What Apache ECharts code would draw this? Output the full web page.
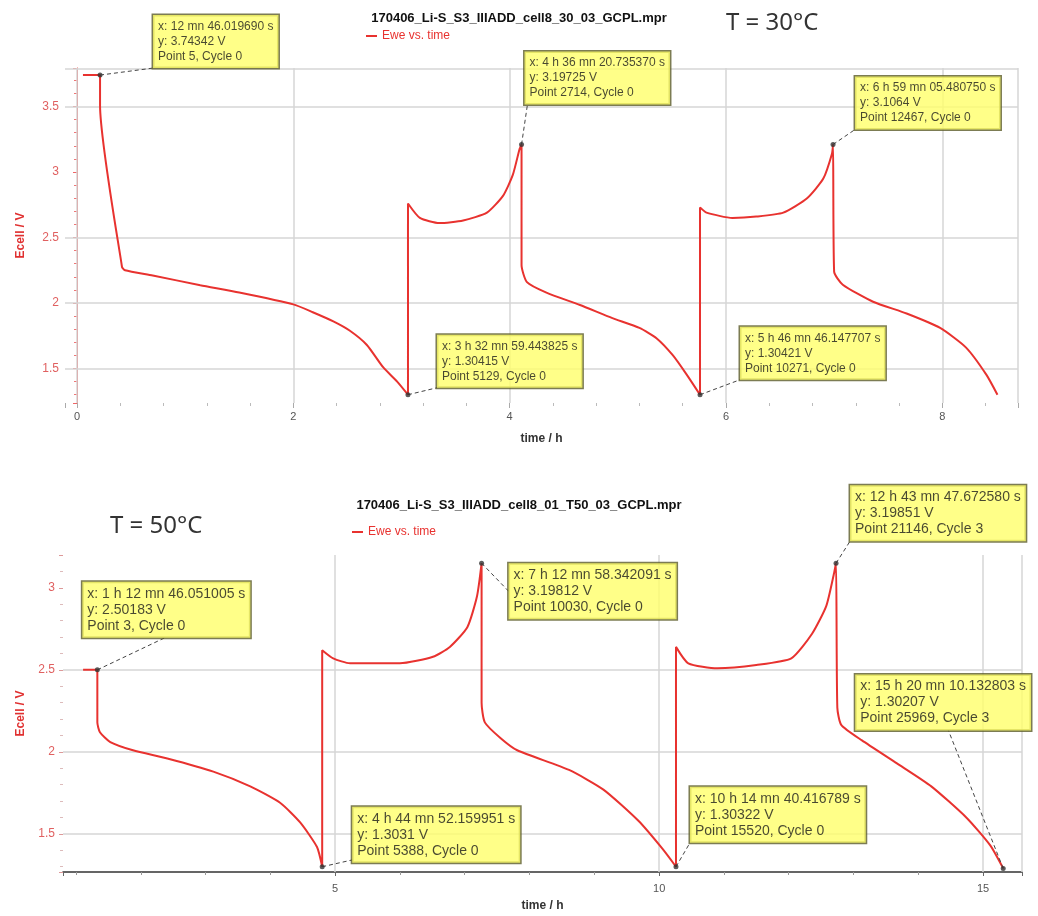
<!DOCTYPE html>
<html><head><meta charset="utf-8">
<script src="https://cdn.jsdelivr.net/npm/echarts@6/dist/echarts.min.js"></script>
<style>html,body{margin:0;padding:0;background:#fff}#c{width:1038px;height:916px}</style>
</head><body><div id="c"></div>
<script>
// ---------- DATA ----------
const seriesName = 'Ewe vs. time';
const fileTop = '170406_Li-S_S3_IIIADD_cell8_30_03_GCPL.mpr';
const fileBot = '170406_Li-S_S3_IIIADD_cell8_01_T50_03_GCPL.mpr';
const tempTop = 'T = 30°C';
const tempBot = 'T = 50°C';

// top chart (30 °C): time in h, Ecell in V
const topTime = [0.055,0.213,0.213,0.416,0.444,0.70,1.14,1.50,2.00,2.18,2.37,2.52,2.68,2.83,2.96,3.06,
  3.06,3.17,3.35,3.57,3.79,3.94,4.03,4.09,4.11,
  4.11,4.16,4.34,4.65,4.95,5.20,5.36,5.51,5.64,5.76,
  5.76,5.82,6.06,6.28,6.53,6.75,6.90,6.98,6.99,
  7.00,7.08,7.36,7.67,7.98,8.22,8.41,8.51];
const topVolt = [3.74,3.74,3.51,2.275,2.25,2.21,2.136,2.08,1.99,1.93,1.86,1.79,1.68,1.51,1.40,1.30,
  2.76,2.65,2.61,2.63,2.69,2.82,2.98,3.17,3.21,
  2.29,2.16,2.08,1.985,1.885,1.81,1.73,1.60,1.45,1.30,
  2.73,2.69,2.65,2.66,2.69,2.80,2.95,3.14,3.21,
  2.24,2.14,2.01,1.92,1.81,1.66,1.45,1.30];

// bottom chart (50 °C)
const botTime = [1.11,1.33,1.33,1.37,1.53,1.88,2.41,3.12,3.69,4.15,4.46,4.72,4.80,
  4.80,4.97,5.23,5.49,6.00,6.51,6.77,7.04,7.19,7.26,
  7.26,7.31,7.55,7.81,8.61,9.14,9.68,10.05,10.26,
  10.26,10.45,10.90,11.50,12.04,12.36,12.58,12.70,12.73,
  12.75,12.81,13.13,13.67,14.20,14.74,15.11,15.31];
const botVolt = [2.50,2.50,2.18,2.12,2.06,2.01,1.96,1.88,1.79,1.69,1.57,1.42,1.30,
  2.62,2.57,2.54,2.54,2.54,2.58,2.64,2.76,2.95,3.15,
  2.30,2.18,2.085,2.01,1.89,1.77,1.58,1.41,1.30,
  2.64,2.54,2.51,2.53,2.57,2.72,2.89,3.09,3.15,
  2.27,2.165,2.07,1.93,1.79,1.60,1.43,1.29];

// annotated points
const topMarkTime = [0.213, 4.11, 6.99, 3.06, 5.76];
const topMarkVolt = [3.74, 3.21, 3.21, 1.30, 1.30];
const topMarkText = [
  'x: 12 mn 46.019690 s\ny: 3.74342 V\nPoint 5, Cycle 0',
  'x: 4 h 36 mn 20.735370 s\ny: 3.19725 V\nPoint 2714, Cycle 0',
  'x: 6 h 59 mn 05.480750 s\ny: 3.1064 V\nPoint 12467, Cycle 0',
  'x: 3 h 32 mn 59.443825 s\ny: 1.30415 V\nPoint 5129, Cycle 0',
  'x: 5 h 46 mn 46.147707 s\ny: 1.30421 V\nPoint 10271, Cycle 0'
];
const botMarkTime = [1.33, 7.26, 12.73, 15.31, 4.80, 10.26];
const botMarkVolt = [2.50, 3.15, 3.15, 1.29, 1.30, 1.30];
const botMarkText = [
  'x: 1 h 12 mn 46.051005 s\ny: 2.50183 V\nPoint 3, Cycle 0',
  'x: 7 h 12 mn 58.342091 s\ny: 3.19812 V\nPoint 10030, Cycle 0',
  'x: 12 h 43 mn 47.672580 s\ny: 3.19851 V\nPoint 21146, Cycle 3',
  'x: 15 h 20 mn 10.132803 s\ny: 1.30207 V\nPoint 25969, Cycle 3',
  'x: 4 h 44 mn 52.159951 s\ny: 1.3031 V\nPoint 5388, Cycle 0',
  'x: 10 h 14 mn 40.416789 s\ny: 1.30322 V\nPoint 15520, Cycle 0'
];

// axis ranges and grid-line values
const topXRange = [-0.111, 8.70], topYRange = [1.237, 3.794];
const botXRange = [0.80, 15.60], botYRange = [1.268, 3.20];
const topXGrid = [0, 2, 4, 6, 8];
const topYGrid = [1.5, 2, 2.5, 3.5];
const botXGrid = [5, 10, 15];
const botYGrid = [1.5, 2, 2.5];

// ---------- STYLE (annotation box placement relative to its point, and leader anchor on box) ----------
const topBoxOff = [[53,-60],[3,-93],[22,-68],[29,-60],[40,-68]];
const topBoxAnchor = [[0,1],[0.02,1],[0,1],[0,1],[0,1]];
const botBoxOff = [[-15,-88],[27,0],[14,-78],[-148,-194],[30,-60],[14,-80]];
const botBoxAnchor = [[0.49,1],[0,0.5],[0,1],[0.53,1],[0,0.95],[0,1]];
const topFont = [12, 15], botFont = [14, 16];

const RED = '#e8322f';
const pairs = (a, b) => a.map((v, i) => [v, b[i]]);
const isMult = (v, s) => Math.abs(v / s - Math.round(v / s)) < 1e-6;

function gridLines(xs, ys, extra) {
  return {
    silent: true, symbol: 'none', z: 1, animation: false,
    label: { show: false },
    lineStyle: { color: '#d6d6d6', width: 1.5, type: 'solid' },
    emphasis: { disabled: true },
    data: xs.map(v => ({ xAxis: v })).concat(ys.map(v => ({ yAxis: v }))).concat(extra)
  };
}

function layoutFn(offs) {
  return function (p) {
    const o = offs[p.dataIndex];
    const cx = p.rect.x + p.rect.width / 2, cy = p.rect.y + p.rect.height / 2;
    return { x: cx + o[0], y: cy + o[1], align: 'left', verticalAlign: 'top' };
  };
}

function markSeries(xi, times, volts, texts, offs, font) {
  return {
    type: 'scatter', xAxisIndex: xi, yAxisIndex: xi, z: 5, silent: true,
    symbolSize: 5, itemStyle: { color: '#333' },
    data: pairs(times, volts),
    label: {
      show: true, position: 'right',
      formatter: p => texts[p.dataIndex],
      backgroundColor: '#ffff6a', borderColor: '#5b5b28', borderWidth: 1.5,
      padding: [4, 5], color: '#1a1a1a', fontSize: font[0], lineHeight: font[1],
      fontFamily: 'Liberation Sans'
    },
    labelLayout: layoutFn(offs)
  };
}

const chart = echarts.init(document.getElementById('c'), null, { renderer: 'canvas' });
chart.setOption({
  animation: false,
  backgroundColor: '#fff',
  textStyle: { fontFamily: 'Liberation Sans' },
  title: [
    { text: fileTop, left: 'center', top: 12, padding: 0,
      textStyle: { fontSize: 13, fontWeight: 'bold', color: '#111', fontFamily: 'Liberation Sans' } },
    { text: tempTop, left: 726, top: 11, padding: 0,
      textStyle: { fontSize: 24, fontWeight: 'normal', color: '#333', fontFamily: 'Noto Sans' } },
    { text: fileBot, left: 'center', top: 499, padding: 0,
      textStyle: { fontSize: 13, fontWeight: 'bold', color: '#111', fontFamily: 'Liberation Sans' } },
    { text: tempBot, left: 110, top: 514, padding: 0,
      textStyle: { fontSize: 24, fontWeight: 'normal', color: '#333', fontFamily: 'Noto Sans' } }
  ],
  legend: [
    { data: [seriesName], left: 366, top: 30, padding: 0, selectedMode: false,
      icon: 'rect', itemWidth: 11, itemHeight: 2, itemGap: 5,
      textStyle: { color: RED, fontSize: 12, fontFamily: 'Liberation Sans' } },
    { data: [seriesName], left: 352, top: 526, padding: 0, selectedMode: false,
      icon: 'rect', itemWidth: 11, itemHeight: 2, itemGap: 5,
      textStyle: { color: RED, fontSize: 12, fontFamily: 'Liberation Sans' } }
  ],
  grid: [
    { left: 65, right: 20, top: 68, bottom: 513 },
    { left: 63, right: 16, top: 555, bottom: 44 }
  ],
  xAxis: [
    { gridIndex: 0, type: 'value', min: topXRange[0], max: topXRange[1], minInterval: 2, maxInterval: 2,
      axisLine: { show: false },
      axisTick: { show: true, length: 5, lineStyle: { color: '#aaa' } },
      minorTick: { show: true, splitNumber: 5, length: 3, lineStyle: { color: '#bbb' } },
      splitLine: { show: false },
      axisLabel: { color: '#555', fontSize: 11, margin: 8, formatter: v => isMult(v, 2) ? String(Math.round(v)) : '' },
      name: 'time / h', nameLocation: 'middle', nameGap: 30,
      nameTextStyle: { fontWeight: 'bold', color: '#333', fontSize: 12 } },
    { gridIndex: 1, type: 'value', min: botXRange[0], max: botXRange[1], minInterval: 5, maxInterval: 5,
      axisLine: { show: true, lineStyle: { color: '#333', width: 1.5 } },
      axisTick: { show: true, length: 4, lineStyle: { color: '#666' } },
      minorTick: { show: true, splitNumber: 5, length: 3, lineStyle: { color: '#999' } },
      splitLine: { show: false },
      axisLabel: { color: '#555', fontSize: 11, margin: 11, formatter: v => isMult(v, 5) ? String(Math.round(v)) : '' },
      name: 'time / h', nameLocation: 'middle', nameGap: 28,
      nameTextStyle: { fontWeight: 'bold', color: '#333', fontSize: 12 } }
  ],
  yAxis: [
    { gridIndex: 0, type: 'value', min: topYRange[0], max: topYRange[1], minInterval: 0.5, maxInterval: 0.5,
      axisLine: { show: true, lineStyle: { color: '#e44', width: 1 } },
      axisTick: { show: true, length: 4, lineStyle: { color: '#e66' } },
      minorTick: { show: true, splitNumber: 5, length: 3, lineStyle: { color: '#e77' } },
      splitLine: { show: false },
      axisLabel: { color: '#e06060', fontSize: 12, margin: 6, formatter: v => isMult(v, 0.5) ? String(Math.round(v * 10) / 10) : '' },
      name: 'Ecell / V', nameLocation: 'middle', nameRotate: 90, nameGap: 38,
      nameTextStyle: { color: '#e03030', fontWeight: 'bold', fontSize: 12 } },
    { gridIndex: 1, type: 'value', min: botYRange[0], max: botYRange[1], minInterval: 0.5, maxInterval: 0.5,
      axisLine: { show: false },
      axisTick: { show: true, length: 4, lineStyle: { color: '#d99' } },
      minorTick: { show: true, splitNumber: 5, length: 3, lineStyle: { color: '#dbb' } },
      splitLine: { show: false },
      axisLabel: { color: '#e06060', fontSize: 12, margin: 8, formatter: v => isMult(v, 0.5) ? String(Math.round(v * 10) / 10) : '' },
      name: 'Ecell / V', nameLocation: 'middle', nameRotate: 90, nameGap: 36,
      nameTextStyle: { color: '#e03030', fontWeight: 'bold', fontSize: 12 } }
  ],
  series: [
    { name: seriesName, type: 'line', xAxisIndex: 0, yAxisIndex: 0, z: 2,
      showSymbol: false, symbol: 'none', color: RED, smooth: 0.2,
      lineStyle: { color: RED, width: 2 },
      data: pairs(topTime, topVolt),
      markLine: gridLines(topXGrid, topYGrid, [{ xAxis: topXRange[1] }, { yAxis: topYRange[1] }]) },
    { name: seriesName, type: 'line', xAxisIndex: 1, yAxisIndex: 1, z: 2,
      showSymbol: false, symbol: 'none', color: RED, smooth: 0.2,
      lineStyle: { color: RED, width: 2 },
      data: pairs(botTime, botVolt),
      markLine: gridLines(botXGrid, botYGrid, [{ xAxis: botXRange[1] }]) },
    markSeries(0, topMarkTime, topMarkVolt, topMarkText, topBoxOff, topFont),
    markSeries(1, botMarkTime, botMarkVolt, botMarkText, botBoxOff, botFont)
  ]
});

// dashed leader lines from each marked point to its annotation box, positioned via the chart's own scales
const measureCtx = document.createElement('canvas').getContext('2d');
function leaderLines(gi, times, volts, texts, offs, anchors, font) {
  measureCtx.font = font[0] + 'px "Liberation Sans"';
  return times.map((t, i) => {
    const p = chart.convertToPixel({ gridIndex: gi }, [t, volts[i]]);
    const lines = texts[i].split('\n');
    const w = Math.max.apply(null, lines.map(s => measureCtx.measureText(s).width)) + 10;
    const h = lines.length * font[1] + 8;
    const bx = p[0] + offs[i][0], by = p[1] + offs[i][1];
    return {
      type: 'polyline', silent: true, z: 4,
      shape: { points: [p, [bx + anchors[i][0] * w, by + anchors[i][1] * h]] },
      style: { stroke: '#444', lineWidth: 1, lineDash: [4, 3], fill: null }
    };
  });
}
chart.setOption({
  graphic: leaderLines(0, topMarkTime, topMarkVolt, topMarkText, topBoxOff, topBoxAnchor, topFont)
    .concat(leaderLines(1, botMarkTime, botMarkVolt, botMarkText, botBoxOff, botBoxAnchor, botFont))
});
</script>
</body></html>
